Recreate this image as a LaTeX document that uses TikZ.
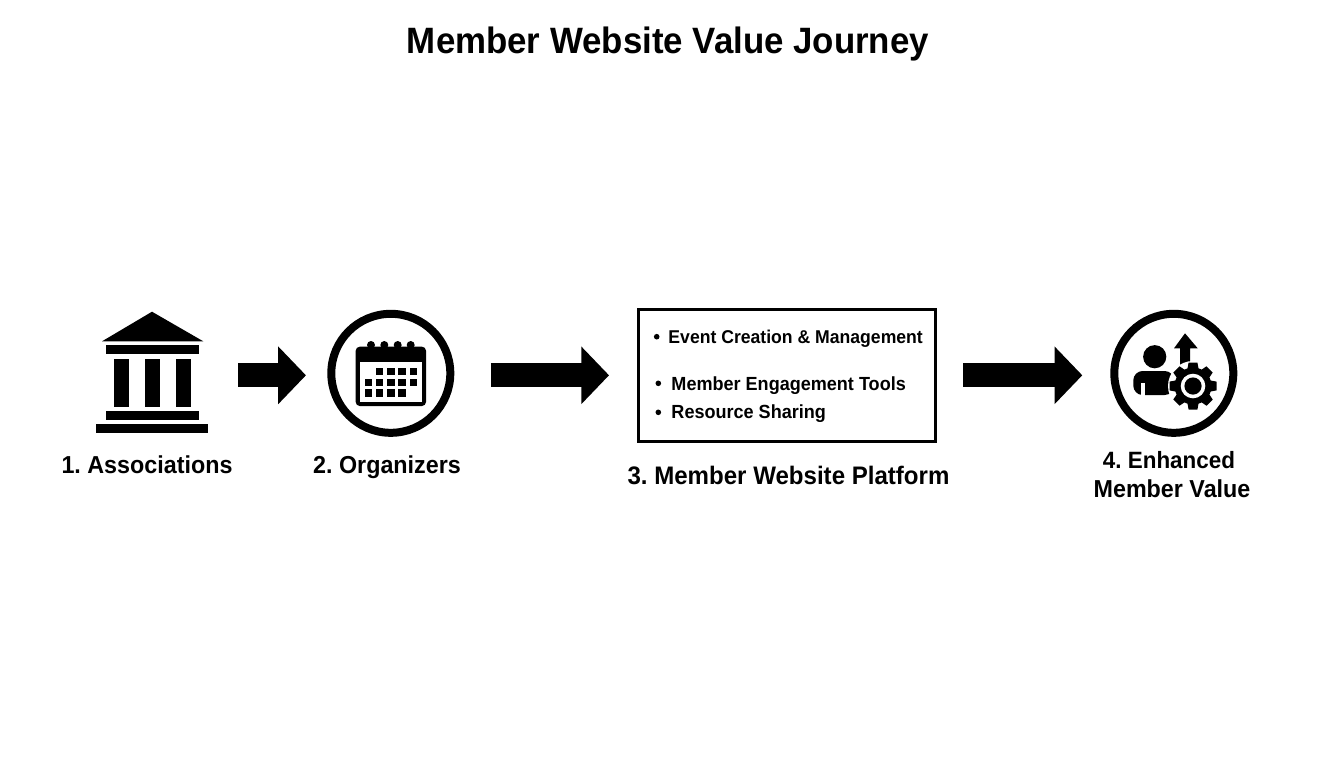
\documentclass[tikz,border=0pt]{standalone}
\usepackage{fontspec}
\setmainfont[FakeStretch=0.95]{Liberation Sans}
\usetikzlibrary{arrows.meta}
\tikzset{
  bigarrow/.style={line width=18pt,-{Triangle[length=20.8pt,width=42pt]},black},
  ring/.style={circle,draw=black,line width=6pt,minimum size=89.25pt,inner sep=0pt,fill=white},
  listbox/.style={rectangle,draw=black,line width=2.25pt,minimum width=222.75pt,minimum height=99.25pt,inner sep=0pt},
  iconbox/.style={rectangle,minimum width=84pt,minimum height=90pt,inner sep=0pt},
  titletext/.style={font=\fontsize{27.5pt}{32pt}\selectfont\bfseries,anchor=base,inner sep=0pt},
  steptext/.style={font=\fontsize{18.4pt}{22pt}\selectfont\bfseries\frenchspacing,anchor=base,inner sep=0pt},
  steptextlarge/.style={steptext,font=\fontsize{19pt}{22pt}\selectfont\bfseries\frenchspacing},
  steptextsmall/.style={steptext,font=\fontsize{17.7pt}{22pt}\selectfont\bfseries\frenchspacing},
  listtext/.style={font=\fontsize{13.9pt}{18pt}\selectfont\bfseries,anchor=base west,inner sep=0pt},
  listtextwide/.style={listtext,font=\fontsize{14.25pt}{18pt}\selectfont\bfseries},
}
\begin{document}
\begin{tikzpicture}[x=0.75pt,y=-0.75pt]
\useasboundingbox (0,0) rectangle (1344,768);
\fill[white] (0,0) rectangle (1344,768);
\node[titletext] (title) at (668,53) {Member Website Value Journey};

% bank
\node[iconbox] (bank) at (152.3,375.3) {};
\fill (102,341.3) -- (152,311.7) -- (203.3,341.3) -- cycle;
\fill (106.3,345.3) rectangle (199.3,354.3);
\fill (114.3,358.7) rectangle (129.3,407.3);
\fill (145,358.7) rectangle (160,407.3);
\fill (175.7,358.7) rectangle (190.7,407.3);
\fill (105.7,411.3) rectangle (199.3,420);
\fill (96.3,424) rectangle (208.3,432.7);
\node[steptext] (l1) at (147,473) {1. Associations};

% calendar
\node[ring] (cal) at (390.8,373.3) {};
\fill[rounded corners=3pt] (355.7,346.7) rectangle (426,406);
\fill[white] (359.7,361.7) rectangle (422,402);
\foreach \x in {371,384.3,397.7,410.7} \fill (\x,345) circle[radius=4];
\foreach \x in {375.7,386.9,398.2,409.5} \fill (\x,367.7) rectangle ++(7.7,7.5);
\foreach \x in {364.6,375.7,386.9,398.2,409.5} \fill (\x,378.7) rectangle ++(7.7,7.5);
\foreach \x in {364.6,375.7,386.9,398.2} \fill (\x,389.4) rectangle ++(7.7,7.5);
\node[steptext] (l2) at (387,473) {2. Organizers};

% platform box
\node[listbox] (box) at (787.3,375.3) {};
\fill (656.7,336.7) circle[radius=2.8];
\fill (658.3,383.3) circle[radius=2.8];
\fill (658.3,412.3) circle[radius=2.8];
\node[listtext] (i1) at (668.2,343) {Event Creation \& Management};
\node[listtextwide] (i2) at (671.2,390) {Member Engagement Tools};
\node[listtextwide] (i3) at (671.2,418) {Resource Sharing};
\node[steptextlarge] (l3) at (788.5,484) {3. Member Website Platform};

% value icon
\node[ring] (val) at (1173.8,373.3) {};
\fill (1154.7,356.7) circle[radius=11.6];
\fill[rounded corners=7pt] (1133.3,395) -- (1133.3,371) -- (1174,371) -- (1174,395) -- cycle;
\fill[white] (1140.7,383.3) rectangle (1145,395.5);
\fill (1185,333.3) -- (1197.7,348.3) -- (1190,348.3) -- (1190,368) -- (1180,368) -- (1180,348.3) -- (1174,348.3) -- cycle;
\fill[white] (1193,386) circle[radius=25];
\begin{scope}[shift={(1193,386)}]
  \fill (0,0) circle[radius=18.5];
  \foreach \a in {0,45,...,315}
    \fill[rotate=\a] (-6,-15) -- (-4.4,-23.5) -- (4.4,-23.5) -- (6,-15) -- cycle;
  \fill[white] (0,0) circle[radius=12.3];
  \fill (0,0) circle[radius=8.6];
\end{scope}
\node[steptextsmall] (l4a) at (1169,468) {4. Enhanced};
\node[steptext] (l4b) at (1172,497) {Member Value};

% connectors
\draw[bigarrow,shorten <=22.3pt,shorten >=16pt] (bank.east) -- ([yshift=-1.5pt]cal.west);
\draw[bigarrow,shorten <=27.5pt,shorten >=21.2pt] ([yshift=-1.5pt]cal.east) -- (box.west);
\draw[bigarrow,shorten <=19.3pt,shorten >=21pt] (box.east) -- ([yshift=-1.5pt]val.west);
\end{tikzpicture}
\end{document}
